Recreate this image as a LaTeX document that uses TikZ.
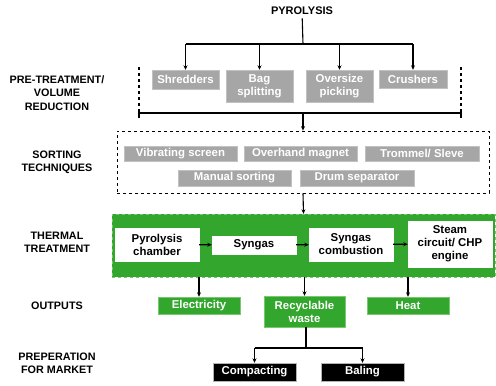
\documentclass[tikz,border=0pt]{standalone}
\usepackage{fontspec}
\setmainfont{Liberation Sans}
\usepackage{xcolor}
\definecolor{pgray}{RGB}{166,166,166}
\definecolor{pgreen}{RGB}{51,166,46}
\definecolor{pgreenline}{RGB}{120,200,110}
\usetikzlibrary{arrows.meta,positioning}

\tikzset{
  boxfont/.style={font=\fontsize{11.4}{13}\selectfont\bfseries},
  graybox/.style={boxfont, fill=pgray, draw=pgray!70!white, text=white, inner sep=0pt, align=center},
  greenbox/.style={boxfont, fill=pgreen, draw=pgreenline, text=white, inner sep=0pt, align=center},
  whitebox/.style={boxfont, fill=white, draw=white, text=black, inner sep=0pt, align=center},
  blackbox/.style={boxfont, fill=black, draw=gray!60, text=white, inner sep=0pt, align=center},
  steplabel/.style={font=\fontsize{10.8}{13.3}\selectfont\bfseries, text=black, align=center},
  arr/.style={-{Stealth[length=4.5pt,width=4pt]}, line width=1.1pt},
  conn/.style={line width=1.1pt}
}

\begin{document}
\begin{tikzpicture}[x=1pt,y=-1pt]
    \useasboundingbox (0,0) rectangle (496,386);

    % Title
    \node[steplabel, font=\fontsize{11}{13}\selectfont\bfseries] (pyro) at (302,11) {PYROLYSIS};

    % Stage labels
    \node[steplabel] (lpret) at (57,93) {PRE-TREATMENT/\\VOLUME\\REDUCTION};
    \node[steplabel] (lsort) at (57,162) {SORTING\\TECHNIQUES};
    \node[steplabel] (ltherm) at (57,242) {THERMAL\\TREATMENT};
    \node[steplabel] (lout) at (57,306) {OUTPUTS};
    \node[steplabel] (lprep) at (57,363) {PREPERATION\\FOR MARKET};

    % Pre-treatment / volume reduction
    \node[graybox, minimum width=67pt, minimum height=19pt] (shred) at (185.5,79.5) {Shredders};
    \node[graybox, minimum width=67pt, minimum height=32pt] (bag) at (259.5,86) {Bag\\splitting};
    \node[graybox, minimum width=67pt, minimum height=32pt] (over) at (339.5,86) {Oversize\\picking};
    \node[graybox, minimum width=68pt, minimum height=18pt] (crush) at (413,79) {Crushers};

    \coordinate (pyrosplit) at (303,44);
    \draw[conn] (pyro) -- (pyrosplit);
    \draw[conn] (shred.north |- pyrosplit) -- (crush.north |- pyrosplit);
    \foreach \n in {shred,bag,over,crush}{
      \draw[arr] (\n.north |- pyrosplit) -- (\n.north);
    }

    % Bracket round the pre-treatment
    \coordinate (pretl) at (139,67);
    \coordinate (pretr) at (461,67);
    \coordinate (pretbl) at (139,113);
    \coordinate (pretbr) at (461,113);
    \coordinate (pretbot) at (303,113);
    \draw[line width=1.1pt, dashed] (pretl) -- ([yshift=-4pt]pretbl);
    \draw[line width=1.1pt, dashed] (pretr) -- ([yshift=-4pt]pretbr);
    \draw[conn] ([yshift=-5pt]pretbl) -- (pretbl) -- (pretbr) -- ([yshift=-5pt]pretbr);

    % Sorting techniques
    \node[draw, dashed, thick, minimum width=372pt, minimum height=62pt, inner sep=0pt] (sortbox) at (303,162) {};
    \draw[arr] (pretbot) -- (sortbox.north);
    \node[graybox, minimum width=113pt, minimum height=15pt] (vib) at (180.5,153.5) {Vibrating screen};
    \node[graybox, minimum width=113pt, minimum height=15pt] (mag) at (300.5,153.5) {Overhand magnet};
    \node[graybox, minimum width=114pt, minimum height=15pt] (trom) at (422,153.5) {Trommel/ Sleve};
    \node[graybox, minimum width=113pt, minimum height=16pt] (manual) at (234.5,178) {Manual sorting};
    \node[graybox, minimum width=114pt, minimum height=16pt] (drum) at (357,178) {Drum separator};

    % Thermal treatment
    \node[fill=pgreen, draw=pgreenline, dashed, minimum width=383pt, minimum height=63pt, inner sep=0pt] (thermbox) at (303.5,245.5) {};
    \draw[arr] (sortbox.south) -- (thermbox.north);
    \node[whitebox, minimum width=84pt, minimum height=33pt] (chamber) at (157,244.5) {Pyrolysis\\chamber};
    \node[whitebox, minimum width=84pt, minimum height=18pt] (syngas) at (254,245) {Syngas};
    \node[whitebox, minimum width=84pt, minimum height=33pt] (comb) at (351,244.5) {Syngas\\combustion};
    \node[whitebox, minimum width=84pt, minimum height=46pt] (steam) at (450,244) {Steam\\circuit/ CHP\\engine};
    \draw[arr] (chamber) -- (syngas);
    \draw[arr] (syngas) -- (comb);
    \draw[arr] (comb) -- (steam);

    % Outputs
    \node[greenbox, minimum width=82pt, minimum height=17pt] (elec) at (199,305.5) {Electricity};
    \node[greenbox, minimum width=81pt, minimum height=31pt] (recy) at (304.5,311.5) {Recyclable\\waste};
    \node[greenbox, minimum width=82pt, minimum height=17pt] (heat) at (408,305.5) {Heat};
    \foreach \n in {elec,recy,heat}{
      \draw[arr] (\n.north |- thermbox.south) -- (\n.north);
    }

    % Preparation for market
    \node[blackbox, minimum width=83pt, minimum height=18pt] (compact) at (254.5,372) {Compacting};
    \node[blackbox, minimum width=83pt, minimum height=18pt] (baling) at (362.5,372) {Baling};
    \coordinate (recysplit) at (306,348);
    \draw[conn] ([xshift=1.5pt]recy.south) -- (recysplit);
    \draw[conn] (compact.north |- recysplit) -- (baling.north |- recysplit);
    \foreach \n in {compact,baling}{
      \draw[arr] (\n.north |- recysplit) -- (\n.north);
    }
\end{tikzpicture}
\end{document}
